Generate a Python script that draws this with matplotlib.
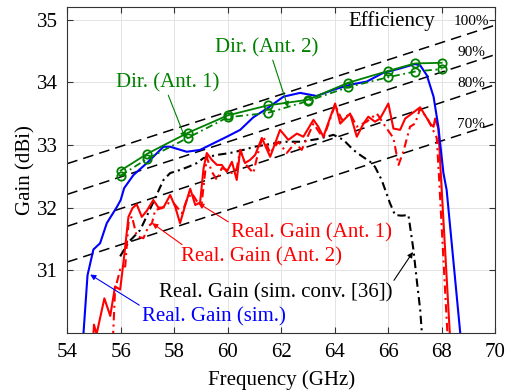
import numpy as np
import matplotlib.pyplot as plt

plt.rcParams['font.family'] = ['Liberation Serif', 'DejaVu Serif']
plt.rcParams['mathtext.fontset'] = 'stix'

# efficiency reference lines (read at f = 54 and f = 70 GHz)
eff_labels = ['100%', '90%', '80%', '70%']
eff_f = [54, 70]
eff_left = [32.70, 32.21, 31.70, 31.13]
eff_right = [34.91, 34.44, 33.96, 33.34]
eff_label_y = [34.97, 34.48, 33.98, 33.33]

# directivity, measured points
dir_f = [56, 57, 58.5, 60, 61.5, 63, 64.5, 66, 67, 68]
dir_ant1 = [32.59, 32.86, 33.19, 33.47, 33.63, 33.72, 33.99, 34.18, 34.30, 34.31]
dir_ant2 = [32.51, 32.78, 33.11, 33.44, 33.51, 33.70, 33.92, 34.08, 34.17, 34.21]

# realized gain, simulated
sim_f = [54.55, 54.61, 54.76, 54.98, 55.23, 55.48, 55.86, 56.0, 56.13, 56.48, 56.98, 57.6,
         57.85, 58.47, 58.97, 59.97, 60.47, 60.96, 61.47, 62.09, 62.71, 63.33, 63.96, 64.58,
         65.2, 65.82, 66.45, 67.0, 67.2, 67.45, 67.7, 67.88, 68.07, 68.19, 68.72]
sim_g = [29.9, 30.0, 30.92, 31.33, 31.43, 31.75, 32.01, 32.12, 32.31, 32.52, 32.71, 32.97,
         32.97, 32.89, 32.92, 33.13, 33.24, 33.44, 33.58, 33.77, 33.83, 33.78, 33.88, 33.96,
         34.01, 34.15, 34.22, 34.29, 34.27, 34.11, 33.77, 33.29, 32.55, 32.28, 29.9]

# realized gain, measured Ant. 1
ant1_f = [54.97, 55.00, 55.10, 55.39, 55.61, 55.79, 55.98, 56.13, 56.29, 56.44, 56.60, 56.79,
          56.98, 57.22, 57.41, 57.60, 57.85, 58.04, 58.22, 58.41, 58.60, 58.79, 58.97, 59.10,
          59.22, 59.41, 59.60, 59.78, 59.97, 60.16, 60.34, 60.47, 60.65, 60.84, 61.03, 61.28,
          61.59, 61.96, 62.27, 62.59, 62.83, 63.21, 63.39, 63.58, 64.02, 64.21, 64.58, 64.83,
          65.08, 65.26, 65.51, 65.70, 66.01, 66.20, 66.45, 66.64, 67.20, 67.57, 67.70, 67.76,
          67.88, 67.97, 68.32]
ant1_g = [29.9, 30.13, 29.98, 30.55, 30.27, 30.74, 30.69, 31.22, 31.85, 31.99, 32.05, 31.85,
          31.95, 32.12, 32.00, 32.00, 32.20, 32.01, 31.75, 32.03, 32.30, 32.04, 32.08, 32.63,
          32.87, 32.76, 32.68, 32.68, 32.57, 32.73, 32.44, 32.92, 32.71, 32.76, 32.84, 33.11,
          32.81, 33.24, 33.08, 33.18, 33.13, 33.40, 33.29, 33.13, 33.66, 33.34, 33.50, 33.13,
          33.34, 33.45, 33.37, 33.42, 33.66, 33.26, 33.24, 33.42, 33.60, 33.34, 33.29, 33.42,
          33.26, 32.55, 29.9]

# realized gain, measured Ant. 2
ant2_f = [55.71, 55.79, 55.98, 56.17, 56.29, 56.42, 56.60, 56.85, 57.04, 57.17, 57.29, 57.54,
          57.79, 57.98, 58.29, 58.47, 58.66, 58.85, 59.03, 59.22, 59.41, 59.60, 59.78, 59.97,
          60.16, 60.34, 60.47, 60.65, 60.96, 61.21, 61.34, 61.59, 61.90, 62.21, 62.52, 62.77,
          63.21, 63.46, 63.60, 64.02, 64.27, 64.58, 64.83, 65.20, 65.58, 65.95, 66.20, 66.39,
          66.57, 66.82, 67.01, 67.20, 67.50, 67.82, 67.90, 68.23]
ant2_g = [29.9, 30.69, 31.01, 31.06, 31.75, 31.86, 31.54, 31.51, 31.70, 31.75, 31.96, 31.99,
          32.07, 32.07, 31.91, 32.12, 32.23, 32.10, 32.07, 32.80, 32.57, 32.44, 32.63, 32.60,
          32.55, 32.62, 32.92, 32.70, 32.55, 33.00, 33.13, 32.87, 33.05, 32.87, 33.03, 32.92,
          33.34, 33.18, 33.13, 33.64, 33.40, 33.50, 33.29, 33.37, 33.50, 33.26, 33.11, 32.68,
          32.89, 33.29, 33.34, 33.58, 33.40, 33.11, 32.52, 29.9]

# realized gain, simulated conventional [36]
conv_f = [55.98, 56.30, 56.73, 57.17, 57.60, 57.85, 58.22, 58.53, 58.85, 59.10, 59.60, 60.09,
          60.59, 61.00, 62.09, 62.71, 63.33, 63.96, 64.33, 64.70, 64.95, 65.33, 65.51, 65.76,
          66.07, 66.26, 66.51, 66.76, 66.95, 67.07, 67.20, 67.28]
conv_g = [31.22, 31.45, 31.64, 32.04, 32.44, 32.55, 32.60, 32.65, 32.71, 32.79, 32.84, 32.87,
          32.92, 32.97, 33.05, 33.05, 33.09, 33.16, 33.08, 32.92, 32.84, 32.73, 32.65, 32.44,
          32.07, 31.88, 31.87, 31.88, 31.32, 30.85, 30.37, 29.9]

fig = plt.figure(figsize=(5.13, 3.92), dpi=100)
ax = fig.add_axes([0.131, 0.151, 0.834, 0.831])

for yl, yr in zip(eff_left, eff_right):
    ax.plot(eff_f, [yl, yr], color='black', lw=1.1, dashes=(7, 4))
for lab, y in zip(eff_labels, eff_label_y):
    ax.text(69.1, y, lab, fontsize=11, ha='center', va='center')
ax.text(66.14, 34.97, 'Efficiency', fontsize=15, ha='center', va='center')

ax.plot(conv_f, conv_g, color='black', lw=1.5, dashes=(4, 2, 1, 2))
ax.plot(ant2_f, ant2_g, color='red', lw=1.5, dashes=(4, 2, 1, 2))
ax.plot(ant1_f, ant1_g, color='red', lw=1.5)
ax.plot(sim_f, sim_g, color='blue', lw=1.5)
ax.plot(dir_f, dir_ant2, color='green', lw=1.3, dashes=(4, 2, 1, 2),
        marker='o', ms=6, mfc='none', mew=1.3)
ax.plot(dir_f, dir_ant1, color='green', lw=1.3,
        marker='o', ms=6, mfc='none', mew=1.3)

arrow = dict(arrowstyle='-|>', lw=0.8, mutation_scale=8, shrinkA=0, shrinkB=0)
ax.annotate('Dir. (Ant. 1)', xy=(58.41, 33.11), xytext=(57.74, 33.99), color='green',
            fontsize=15, ha='center', va='center',
            arrowprops=dict(arrow, color='green', relpos=(0.5, 0)))
ax.annotate('Dir. (Ant. 2)', xy=(62.26, 33.60), xytext=(61.46, 34.55), color='green',
            fontsize=15, ha='center', va='center',
            arrowprops=dict(arrow, color='green', relpos=(0.55, 0)))
ax.annotate('Real. Gain (Ant. 1)', xy=(58.90, 32.07), xytext=(66.15, 31.59), color='red',
            fontsize=15, ha='right', va='center',
            arrowprops=dict(arrow, color='red', relpos=(0.0, 1.0)))
ax.annotate('Real. Gain (Ant. 2)', xy=(57.18, 31.75), xytext=(64.28, 31.21), color='red',
            fontsize=15, ha='right', va='center',
            arrowprops=dict(arrow, color='red', relpos=(0.03, 1.0)))
ax.annotate('Real. Gain (sim. conv. [36])', xy=(66.93, 31.29), xytext=(66.15, 30.64),
            color='black', fontsize=15, ha='right', va='center',
            arrowprops=dict(arrow, color='black', relpos=(1.0, 1.0)))
ax.annotate('Real. Gain (sim.)', xy=(54.86, 30.93), xytext=(56.80, 30.26), color='blue',
            fontsize=15, ha='left', va='center',
            arrowprops=dict(arrow, color='blue', relpos=(0.0, 1.0)))

ax.set_xlim(54, 70)
ax.set_ylim(30, 35.2)
ax.set_xticks(np.arange(54, 71, 2))
ax.set_yticks([31, 32, 33, 34, 35])
ax.grid(True, color='#e3e3e3', lw=0.7)
ax.set_axisbelow(True)
ax.tick_params(direction='in', top=True, right=True, labelsize=15, length=4.5,
               color='#333333', pad=7)
for s in ax.spines.values():
    s.set_color('#333333')
    s.set_linewidth(0.8)
ax.set_xlabel('Frequency (GHz)', fontsize=15, labelpad=6)
ax.set_ylabel('Gain (dBi)', fontsize=15, labelpad=1)

fig.savefig('out.png', dpi=100)
